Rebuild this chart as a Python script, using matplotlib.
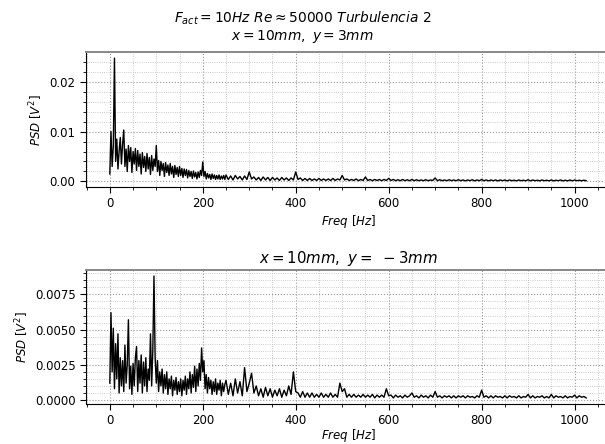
import numpy as np
import matplotlib
matplotlib.use("Agg")
import matplotlib.pyplot as plt
from matplotlib.ticker import MultipleLocator, FormatStrFormatter

# ---- data (PSD values in units of 1e-4 V^2) ----
# low band: 0 .. 247.5 Hz every 2.5 Hz ; high band: 250 .. 1025 Hz every 5 Hz
freq_low = np.arange(0, 250, 2.5)
freq_high = np.arange(250, 1026, 5)

psd_top_low = [
    15, 100, 30, 70, 247, 40, 85, 25, 60, 88,
    35, 75, 103, 30, 65, 20, 72, 40, 68, 18,
    60, 35, 66, 22, 62, 30, 55, 15, 58, 28,
    50, 20, 56, 25, 48, 14, 52, 22, 45, 30,
    72, 20, 42, 12, 40, 22, 36, 10, 38, 18,
    33, 12, 36, 15, 30, 8, 32, 14, 28, 10,
    30, 12, 26, 8, 25, 12, 24, 7, 22, 10,
    20, 6, 21, 9, 18, 5, 19, 8, 22, 12,
    39, 10, 20, 5, 16, 7, 14, 4, 15, 6,
    13, 4, 12, 5, 13, 4, 11, 5, 12, 4,
]
psd_top_high = [
    13, 4, 11, 3, 12, 5, 10, 3, 11, 4,
    19, 5, 9, 3, 8, 2, 9, 3, 8, 2,
    8, 3, 7, 2, 8, 3, 7, 2, 7, 3,
    19, 4, 7, 2, 6, 2, 6, 2, 5, 2,
    6, 2, 5, 2, 5, 2, 6, 2, 5, 3,
    12, 3, 5, 2, 4, 2, 5, 1.5, 4, 2,
    9, 2, 4, 1.5, 4, 2, 4, 1.5, 4, 2,
    6, 2, 4, 1.5, 3.5, 1.5, 4, 1.5, 3.5, 1.5,
    4, 1.5, 3.5, 1.5, 3, 1.5, 3.5, 1.5, 3, 2,
    7, 1.5, 3.5, 1.5, 3, 1.5, 3.5, 1.5, 3, 1.5,
    3.5, 1.5, 3, 1.2, 3, 1.5, 3.5, 1.2, 3, 1.5,
    4, 1.5, 3, 1.2, 3, 1.5, 3, 1.2, 3, 1.5,
    3, 1.2, 3, 1.5, 2.5, 1.2, 3, 1.5, 2.5, 1.2,
    3.5, 1.2, 3, 1.5, 2.5, 1.2, 3, 1.5, 2.5, 1.2,
    3, 1.2, 2.5, 1.5, 3, 1.2, 2.5, 1.2, 3, 1.2,
    3, 1.5, 2.5, 1.2, 2.5, 1.5,
]

psd_bot_low = [
    12, 62, 20, 51, 8, 40, 15, 47, 5, 30,
    10, 28, 6, 39, 12, 25, 57, 8, 24, 4,
    26, 10, 30, 38, 6, 28, 12, 32, 5, 27,
    10, 30, 6, 22, 14, 47, 10, 35, 88, 30,
    12, 28, 6, 20, 10, 22, 5, 18, 8, 20,
    4, 15, 8, 17, 3, 14, 7, 16, 4, 13,
    6, 15, 3, 14, 7, 17, 4, 15, 8, 20,
    5, 18, 9, 24, 6, 22, 10, 26, 14, 37,
    20, 28, 8, 18, 5, 16, 8, 14, 4, 13,
    6, 15, 4, 12, 7, 14, 3, 12, 6, 11,
]
psd_bot_high = [
    14, 4, 12, 3, 15, 5, 13, 3, 23, 6,
    12, 19, 5, 10, 3, 8, 2, 9, 3, 8,
    2, 7, 3, 8, 2, 7, 3, 10, 4, 20,
    6, 5, 2, 6, 2, 5, 2, 5, 2, 4,
    2, 5, 2, 4, 2, 5, 2, 4, 2, 12,
    6, 8, 2, 4, 2, 4, 2, 3.5, 2, 4,
    2, 3.5, 2, 4, 1.5, 3.5, 2, 3.5, 2, 8,
    3, 3.5, 1.5, 3.5, 2, 3, 1.5, 3.5, 2, 3,
    5, 2, 3, 1.5, 3.5, 2, 3, 1.5, 3.5, 2,
    6, 2, 3, 1.5, 3, 2, 3, 1.5, 3, 1.5,
    3, 2, 3, 1.5, 3, 2, 2.5, 1.5, 3, 2,
    7, 2, 3, 1.5, 3, 1.5, 3, 2, 2.5, 1.5,
    3, 1.5, 3, 2, 2.5, 1.5, 3, 1.5, 2.5, 2,
    4, 1.5, 3, 1.5, 2.5, 2, 3, 1.5, 2.5, 1.5,
    4, 1.5, 3, 2, 2.5, 1.5, 3, 1.5, 2.5, 2,
    3.5, 1.5, 3, 2, 2.5, 1.5,
]

UNIT = 1e-4
freq = np.concatenate([freq_low, freq_high])
psd_top = np.array(psd_top_low + psd_top_high) * UNIT
psd_bot = np.array(psd_bot_low + psd_bot_high) * UNIT

title_main = r'$F_{act} = 10Hz\ Re \approx 50000\ Turbulencia\ 2$'
title_top = r'$x = 10mm,\ y = 3mm$'
title_bot = r'$x = 10mm,\ y = \ - 3mm$'
xlabel = r'$Freq\ [Hz]$'
ylabel = r'$PSD\ [V^2]$'

# ---- figure ----
W, H = 605, 444
fig = plt.figure(figsize=(W / 100, H / 100), dpi=100)

def px_axes(l, t, r, b):
    return fig.add_axes([l / W, 1 - b / H, (r - l) / W, (b - t) / H])

ax1 = px_axes(86, 52, 610, 187)
ax2 = px_axes(86, 270, 610, 404)

FS = 8.5
for ax, y, ymaj, ymin in [(ax1, psd_top, 0.01, 0.002), (ax2, psd_bot, 0.0025, 0.0005)]:
    ax.plot(freq, y, color='black', lw=1.0)
    ax.xaxis.set_major_locator(MultipleLocator(200))
    ax.xaxis.set_minor_locator(MultipleLocator(50))
    ax.yaxis.set_major_locator(MultipleLocator(ymaj))
    ax.yaxis.set_minor_locator(MultipleLocator(ymin))
    ax.grid(which='major', linestyle=':', color='#999999', lw=0.8)
    ax.grid(which='minor', linestyle=':', color='#bbbbbb', lw=0.6)
    ax.tick_params(which='major', direction='out', length=4, width=0.8, labelsize=FS)
    ax.tick_params(which='minor', direction='out', length=2, width=0.6)
    ax.spines['top'].set_color('#888888')
    ax.spines['top'].set_linewidth(1.4)
    ax.spines['right'].set_visible(False)
    ax.set_ylabel(ylabel, fontsize=FS, labelpad=3)
    ax.set_axisbelow(True)

ax1.set_xlabel(xlabel, fontsize=FS, labelpad=2)
ax2.set_xlabel(xlabel, fontsize=FS, labelpad=0)

ax1.yaxis.set_major_formatter(FormatStrFormatter('%.2f'))
ax2.yaxis.set_major_formatter(FormatStrFormatter('%.4f'))

fig.text(0.5, 1 - 45 / H, title_main + '\n' + title_top, ha='center', va='bottom',
         fontsize=9.9, linespacing=1.05)
ax2.set_title(title_bot, fontsize=10.8, pad=5)

fig.savefig('out.png', dpi=100)
